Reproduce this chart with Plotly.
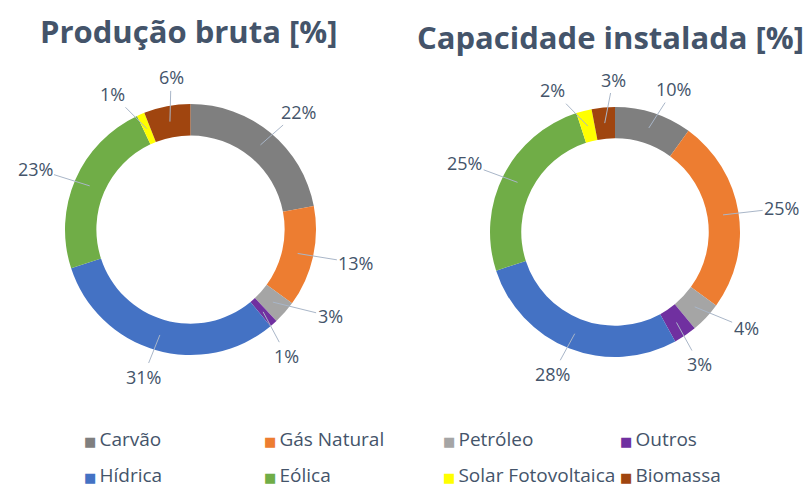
import math
import plotly.graph_objects as go

categories = ["Carvão", "Gás Natural", "Petróleo", "Outros", "Hídrica", "Eólica", "Solar Fotovoltaica", "Biomassa"]
producao = [22, 13, 3, 1, 31, 23, 1, 6]
capacidade = [10, 25, 4, 3, 28, 25, 2, 3]
titles = ["Produção bruta [%]", "Capacidade instalada [%]"]
colors = ["#7F7F7F", "#ED7D31", "#A5A5A5", "#7030A0", "#4472C4", "#70AD47", "#FFFF00", "#A0450F"]

W, H = 808, 486
TEXT = "#44546A"
FONT = "Open Sans"

# pie boxes in pixels (left, top, size)
boxes = [(65, 104, 251), (490, 107, 250)]
title_pos = [(188, 31), (610, 37)]
MIN_SEP = math.radians(21)
LABEL_RX, LABEL_RY = 1.35, 1.22


def spread(angles, min_sep, iters=60):
    a = list(angles)
    n = len(a)
    for _ in range(iters):
        moved = False
        for i in range(n):
            j = (i + 1) % n
            aj = a[j] + (2 * math.pi if j == 0 else 0)
            d = aj - a[i]
            if d < min_sep:
                p = (min_sep - d) / 2
                a[i] -= p
                a[j] += p
                moved = True
        if not moved:
            break
    return a


fig = go.Figure()
annotations = []
for k, (vals, (bx, by, bs)) in enumerate(zip([producao, capacidade], boxes)):
    fig.add_trace(go.Pie(
        labels=categories, values=vals, sort=False, direction="clockwise", rotation=0,
        hole=0.75, textinfo="none", hoverinfo="label+value",
        marker=dict(colors=colors, line=dict(width=0)),
        domain=dict(x=[bx / W, (bx + bs) / W], y=[1 - (by + bs) / H, 1 - by / H]),
        showlegend=False,
    ))
    cx, cy, r = bx + bs / 2, by + bs / 2, bs / 2
    total = sum(vals)
    mids, cum = [], 0
    for v in vals:
        mids.append((cum + v / 2) / total * 2 * math.pi)
        cum += v
    lab_ang = spread(mids, MIN_SEP)
    for v, m, la in zip(vals, mids, lab_ang):
        rin = r * 0.875
        px, py = cx + rin * math.sin(m), cy - rin * math.cos(m)
        lx, ly = cx + r * LABEL_RX * math.sin(la), cy - r * LABEL_RY * math.cos(la)
        annotations.append(dict(
            x=px / W, y=1 - py / H, xref="paper", yref="paper",
            ax=lx - px, ay=ly - py, axref="pixel", ayref="pixel",
            text=f"{v}%", showarrow=True, arrowhead=0, arrowwidth=1,
            arrowcolor="#A9B6C8", standoff=0,
            font=dict(family=FONT, size=18, color=TEXT),
        ))
    tx, ty = title_pos[k]
    annotations.append(dict(
        x=tx / W, y=1 - ty / H, xref="paper", yref="paper", showarrow=False,
        text=f"<b>{titles[k]}</b>", xanchor="center", yanchor="middle",
        font=dict(family=FONT, size=31, color=TEXT),
    ))

# legend: 4 columns, 2 rows (square drawn as a coloured glyph next to the name)
col_x = [44, 224, 403, 580]
legend_names = ["legend", "legend2", "legend3", "legend4"]
for i, (name, col) in enumerate(zip(categories, colors)):
    lg = legend_names[i % 4]
    fig.add_trace(go.Scatter(
        x=[None], y=[None], mode="markers",
        name=f"<span style='color:{col};font-size:13px;font-family:DejaVu Sans'>■</span>\u2009{name}",
        marker=dict(symbol="square", size=1, color="rgba(0,0,0,0)"),
        legend=lg, legendgroup=name, showlegend=True,
    ))

layout_legends = {}
for j, lg in enumerate(legend_names):
    layout_legends[lg] = dict(
        x=col_x[j] / W, y=1 - 420 / H, xanchor="left", yanchor="top",
        orientation="v", itemwidth=30, tracegroupgap=8,
        bgcolor="rgba(0,0,0,0)", borderwidth=0,
        font=dict(family=FONT, size=19, color=TEXT),
    )

fig.update_layout(
    width=W, height=H, margin=dict(l=0, r=0, t=0, b=0, autoexpand=False),
    paper_bgcolor="white", plot_bgcolor="white",
    xaxis=dict(visible=False), yaxis=dict(visible=False),
    annotations=annotations,
    **layout_legends,
)
fig.write_html(
    "out.html",
    config={"displayModeBar": False},
    post_script="document.body.style.margin='0';document.body.style.overflow='hidden';",
)
